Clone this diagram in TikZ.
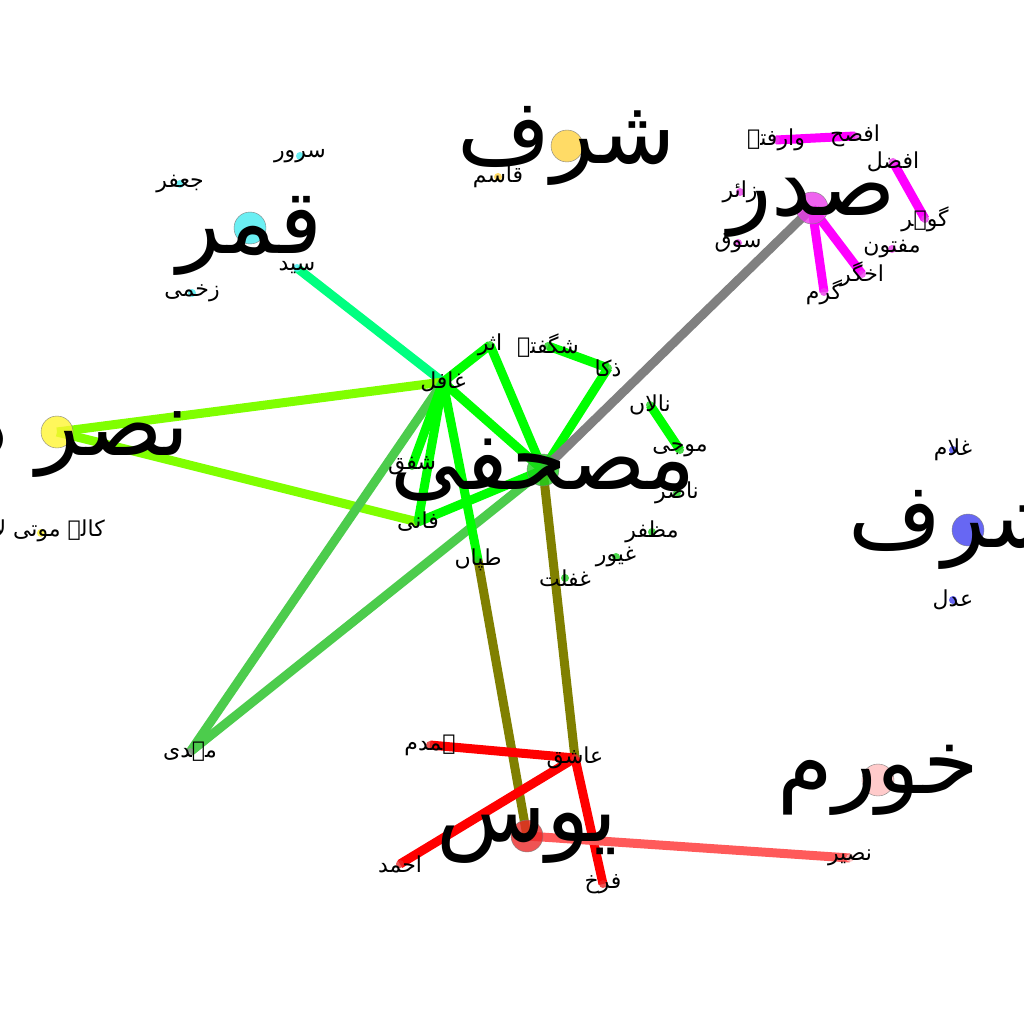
\documentclass[tikz,border=0pt]{standalone}
\usepackage{fontspec}
\newfontfamily\arabicfont[Script=Arabic]{DejaVu Sans}
\TeXXeTstate=1
\newcommand{\urdu}[1]{{\arabicfont\beginR #1\endR}}
\definecolor{cgold}{RGB}{255,210,64}
\definecolor{ccyan}{RGB}{70,235,240}
\definecolor{cmagenta}{RGB}{235,60,235}
\definecolor{cyellow}{RGB}{255,245,50}
\definecolor{cgreen}{RGB}{30,210,30}
\definecolor{cblue}{RGB}{65,65,240}
\definecolor{cpink}{RGB}{255,190,190}
\definecolor{cred}{RGB}{235,40,40}
\definecolor{cgrey}{RGB}{150,150,150}
\definecolor{espring}{RGB}{0,255,128}
\definecolor{elime}{RGB}{128,255,0}
\definecolor{egreen}{RGB}{0,255,0}
\definecolor{emid}{RGB}{76,204,76}
\definecolor{egrey}{RGB}{128,128,128}
\definecolor{eolive}{RGB}{128,128,0}
\definecolor{ered}{RGB}{255,0,0}
\definecolor{esalmon}{RGB}{255,90,90}
\definecolor{emagenta}{RGB}{255,0,255}
\tikzset{
  bigdot/.style={circle, draw=gray, fill=#1, fill opacity=0.8, minimum size=32pt, inner sep=0pt},
  smalldot/.style={circle, fill=#1, fill opacity=0.8, minimum size=8pt, inner sep=0pt},
  bigname/.style={font=\fontsize{90}{90}\selectfont, inner sep=0pt},
  smallname/.style={font=\fontsize{22}{22}\selectfont, inner sep=0pt},
  tie/.style={line width=9pt, draw=#1},
}
\begin{document}
\begin{tikzpicture}[x=1pt, y=-1pt]
  \fill[white] (0,0) rectangle (1024,1024);
  \useasboundingbox (0,0) rectangle (1024,1024);
  % big vertices
  \coordinate (sharaf) at (567,146);
  \coordinate (qamar) at (250,228);
  \coordinate (sadr) at (812,208);
  \coordinate (nasr) at (57,432);
  \coordinate (mushafi) at (543,470);
  \coordinate (sharafb) at (968,530);
  \coordinate (khurram) at (878,780);
  \coordinate (yus) at (527,836);
  % small vertices
  \coordinate (surur) at (300,156);
  \coordinate (jafar) at (180,184);
  \coordinate (zakhmi) at (192,293);
  \coordinate (sayyid) at (297,268);
  \coordinate (qasim) at (498,177);
  \coordinate (warafta) at (776,140);
  \coordinate (afsah) at (855,136);
  \coordinate (afzal) at (893,162);
  \coordinate (gohar) at (925,219);
  \coordinate (zair) at (740,192);
  \coordinate (sauq) at (738,243);
  \coordinate (maftun) at (892,249);
  \coordinate (akhgar) at (862,274);
  \coordinate (garm) at (824,292);
  \coordinate (kala) at (41,533);
  \coordinate (ghafil) at (443,382);
  \coordinate (asar) at (490,345);
  \coordinate (shagufta) at (548,346);
  \coordinate (zaka) at (608,368);
  \coordinate (nalan) at (650,405);
  \coordinate (mauji) at (680,450);
  \coordinate (nasir) at (677,493);
  \coordinate (muzaffar) at (652,532);
  \coordinate (ghayur) at (616,557);
  \coordinate (ghaflat) at (565,578);
  \coordinate (tapan) at (478,560);
  \coordinate (fani) at (418,522);
  \coordinate (shafaq) at (412,466);
  \coordinate (mahdi) at (190,752);
  \coordinate (ashiq) at (575,758);
  \coordinate (hamdam) at (430,745);
  \coordinate (ahmad) at (400,864);
  \coordinate (farrukh) at (603,884);
  \coordinate (nusair) at (850,858);
  \coordinate (ghulam) at (953,450);
  \coordinate (adl) at (953,600);
  % edges
  \draw[tie=espring] (sayyid) -- (ghafil);
  \draw[tie=elime] (nasr) -- (ghafil);
  \draw[tie=elime] (nasr) -- (fani);
  \draw[tie=emid] (ghafil) -- (mahdi);
  \draw[tie=emid] (mushafi) -- (mahdi);
  \draw[tie=egreen] (ghafil) -- (asar);
  \draw[tie=egreen] (asar) -- (mushafi);
  \draw[tie=egreen] (shagufta) -- (zaka);
  \draw[tie=egreen] (zaka) -- (mushafi);
  \draw[tie=egreen] (nalan) -- (mauji);
  \draw[tie=egreen] (ghafil) -- (mushafi);
  \draw[tie=egreen] (ghafil) -- (shafaq);
  \draw[tie=egreen] (ghafil) -- (fani);
  \draw[tie=egreen] (ghafil) -- (tapan);
  \draw[tie=egreen] (fani) -- (mushafi);
  \draw[tie=egrey] (mushafi) -- (sadr);
  \draw[tie=eolive] (tapan) -- (yus);
  \draw[tie=eolive] (mushafi) -- (ashiq);
  \draw[tie=ered] (hamdam) -- (ashiq);
  \draw[tie=ered] (ashiq) -- (ahmad);
  \draw[tie=ered] (ashiq) -- (farrukh);
  \draw[tie=esalmon] (yus) -- (nusair);
  \draw[tie=emagenta] (sadr) -- (garm);
  \draw[tie=emagenta] (sadr) -- (akhgar);
  \draw[tie=emagenta] (warafta) -- (afsah);
  \draw[tie=emagenta] (afzal) -- (gohar);
  % dots
  \node[bigdot=cgold] at (sharaf) {};
  \node[bigdot=ccyan] at (qamar) {};
  \node[bigdot=cmagenta] at (sadr) {};
  \node[bigdot=cyellow] at (nasr) {};
  \node[bigdot=cgreen] at (mushafi) {};
  \node[bigdot=cblue] at (sharafb) {};
  \node[bigdot=cpink] at (khurram) {};
  \node[bigdot=cred] at (yus) {};
  \foreach \v in {surur,jafar,zakhmi,sayyid}
    \node[smalldot=ccyan] at (\v) {};
  \node[smalldot=cgold] at (qasim) {};
  \foreach \v in {warafta,afsah,afzal,gohar,zair,sauq,maftun,akhgar,garm}
    \node[smalldot=cmagenta] at (\v) {};
  \node[smalldot=cyellow] at (kala) {};
  \foreach \v in {ghafil,asar,shagufta,zaka,nalan,mauji,nasir,muzaffar,ghayur,ghaflat,tapan,fani,shafaq}
    \node[smalldot=cgreen] at (\v) {};
  \node[smalldot=cgrey] at (mahdi) {};
  \foreach \v in {ashiq,hamdam,ahmad,farrukh}
    \node[smalldot=cred] at (\v) {};
  \node[smalldot=cpink] at (nusair) {};
  \foreach \v in {ghulam,adl}
    \node[smalldot=cblue] at (\v) {};
  % names
  \node[bigname] (sharafL) at (sharaf) {\urdu{شرف}};
  \node[bigname] (qamarL) at (250,236) {\urdu{قمر}};
  \node[bigname] (sadrL) at (sadr) {\urdu{صدر}};
  \node[bigname, anchor=east] (nasrL) at (190,432) {\urdu{نصر داد}};
  \node[bigname] (mushafiL) at (mushafi) {\urdu{مصحفی}};
  \node[bigname] (sharafbL) at (958,530) {\urdu{شرف}};
  \node[bigname] (khurramL) at (khurram) {\urdu{خورم}};
  \node[bigname] (yusL) at (yus) {\urdu{یوس}};
  \node[smallname] (ssururL) at (surur) {\urdu{سرور}};
  \node[smallname] (jafarL) at (jafar) {\urdu{جعفر}};
  \node[smallname] (zakhmiL) at (zakhmi) {\urdu{زخمی}};
  \node[smallname] (sayyidL) at (sayyid) {\urdu{سید}};
  \node[smallname] (qasimL) at (qasim) {\urdu{قاسم}};
  \node[smallname] (waraftaL) at (warafta) {\urdu{وارفتہ}};
  \node[smallname] (afsahL) at (afsah) {\urdu{افصح}};
  \node[smallname] (afzalL) at (afzal) {\urdu{افضل}};
  \node[smallname] (goharL) at (gohar) {\urdu{گوہر}};
  \node[smallname] (zairL) at (zair) {\urdu{زائر}};
  \node[smallname] (sauqL) at (sauq) {\urdu{سوق}};
  \node[smallname] (maftunL) at (maftun) {\urdu{مفتون}};
  \node[smallname] (akhgarL) at (akhgar) {\urdu{اخگر}};
  \node[smallname] (garmL) at (garm) {\urdu{گرم}};
  \node[smallname, anchor=east] (kalaL) at (105,531) {\urdu{کالہ موتی لال}};
  \node[smallname] (ghafilL) at (ghafil) {\urdu{غافل}};
  \node[smallname] (asarL) at (asar) {\urdu{اثر}};
  \node[smallname] (shaguftaL) at (shagufta) {\urdu{شگفتہ}};
  \node[smallname] (zakaL) at (zaka) {\urdu{ذکا}};
  \node[smallname] (nalanL) at (nalan) {\urdu{نالاں}};
  \node[smallname] (maujiL) at (mauji) {\urdu{موجی}};
  \node[smallname] (nasirL) at (nasir) {\urdu{ناصر}};
  \node[smallname] (muzaffarL) at (muzaffar) {\urdu{مظفر}};
  \node[smallname] (ghayurL) at (ghayur) {\urdu{غیور}};
  \node[smallname] (ghaflatL) at (ghaflat) {\urdu{غفلت}};
  \node[smallname] (tapanL) at (tapan) {\urdu{طپاں}};
  \node[smallname] (faniL) at (fani) {\urdu{فانی}};
  \node[smallname] (shafaqL) at (shafaq) {\urdu{شفق}};
  \node[smallname] (mahdiL) at (mahdi) {\urdu{مہدی}};
  \node[smallname] (ashiqL) at (ashiq) {\urdu{عاشق}};
  \node[smallname] (hamdamL) at (hamdam) {\urdu{ہمدم}};
  \node[smallname] (ahmadL) at (ahmad) {\urdu{احمد}};
  \node[smallname] (farrukhL) at (farrukh) {\urdu{فرخ}};
  \node[smallname] (nusairL) at (nusair) {\urdu{نصیر}};
  \node[smallname] (ghulamL) at (ghulam) {\urdu{غلام}};
  \node[smallname] (adlL) at (adl) {\urdu{عدل}};
\end{tikzpicture}
\end{document}
